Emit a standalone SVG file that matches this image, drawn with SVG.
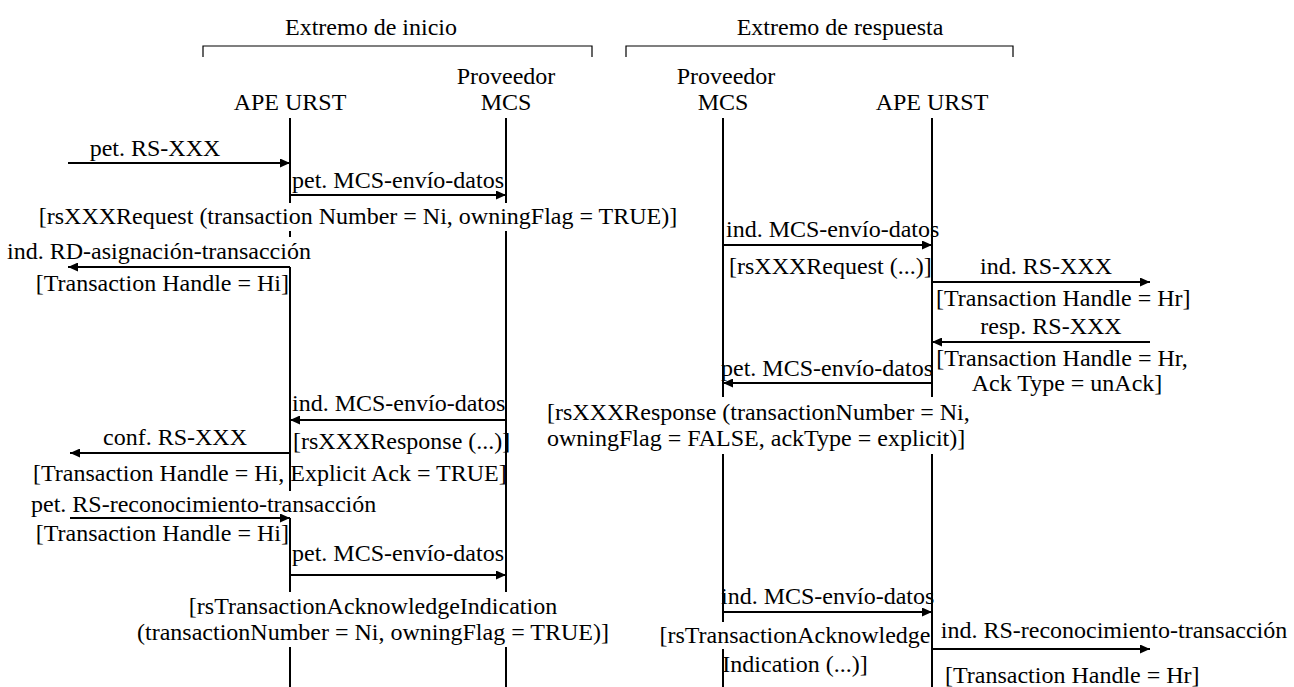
<svg xmlns="http://www.w3.org/2000/svg" width="1294" height="687" viewBox="0 0 1294 687">
  <style>
    text { font-family: "Liberation Serif", "Times New Roman", serif; font-size: 24px; fill: #000; }
    .c { text-anchor: middle; }
    .e { text-anchor: end; }
    .life { stroke: #000; stroke-width: 2; fill: none; }
    .brace { stroke: #000; stroke-width: 1.2; fill: none; }
    .msg { stroke: #000; stroke-width: 2; fill: none; marker-end: url(#head); }
  </style>
  <defs>
    <marker id="head" markerUnits="userSpaceOnUse" markerWidth="11" markerHeight="9" refX="10" refY="4.5" orient="auto">
      <path d="M0,0 L10,4.5 L0,9 z" fill="#000"/>
    </marker>
  </defs>
  <rect width="1294" height="687" fill="#fff"/>

  <!-- sides -->
  <g id="side-initiator">
    <text class="c" x="371" y="35">Extremo de inicio</text>
    <path class="brace" d="M203,57 V46 H592 V57"/>
  </g>
  <g id="side-responder">
    <text class="c" x="840" y="35">Extremo de respuesta</text>
    <path class="brace" d="M626,57 V46 H1013 V57"/>
  </g>

  <!-- participants with their lifelines (broken where labels cross) -->
  <g id="ape-urst-init">
    <text class="c" x="290" y="110">APE URST</text>
    <path class="life" d="M290,118 V203 M290,231 V237 M290,267 V491 M290,518 V592 M290,647 V687"/>
  </g>
  <g id="mcs-init">
    <text class="c" x="506" y="84">Proveedor</text>
    <text class="c" x="506" y="110">MCS</text>
    <path class="life" d="M506,118 V203 M506,231 V592 M506,647 V687"/>
  </g>
  <g id="mcs-resp">
    <text class="c" x="726" y="84">Proveedor</text>
    <text class="c" x="723" y="110">MCS</text>
    <path class="life" d="M723,118 V397 M723,454 V622 M723,649 V687"/>
  </g>
  <g id="ape-urst-resp">
    <text class="c" x="932" y="110">APE URST</text>
    <path class="life" d="M932,118 V397 M932,454 V687"/>
  </g>

  <!-- messages -->
  <g id="connectors">
    <line class="msg" x1="68" y1="163" x2="290" y2="163"/>
    <line class="msg" x1="290" y1="195" x2="506" y2="195"/>
    <line class="msg" x1="290" y1="267" x2="68" y2="267"/>
    <line class="msg" x1="723" y1="245" x2="932" y2="245"/>
    <line class="msg" x1="932" y1="282" x2="1150" y2="282"/>
    <line class="msg" x1="1150" y1="342" x2="932" y2="342"/>
    <line class="msg" x1="932" y1="383" x2="723" y2="383"/>
    <line class="msg" x1="506" y1="420" x2="290" y2="420"/>
    <line class="msg" x1="290" y1="453" x2="70" y2="453"/>
    <line class="msg" x1="70" y1="518" x2="290" y2="518"/>
    <line class="msg" x1="290" y1="575" x2="506" y2="575"/>
    <line class="msg" x1="723" y1="612" x2="932" y2="612"/>
    <line class="msg" x1="932" y1="649" x2="1150" y2="649"/>
  </g>

  <!-- message labels -->
  <g id="labels-init">
    <text class="c" x="155" y="156">pet. RS-XXX</text>
    <text x="292" y="188">pet. MCS-envío-datos</text>
    <text class="c" x="358" y="224">[rsXXXRequest (transaction Number = Ni, owningFlag = TRUE)]</text>
    <text x="7" y="259">ind. RD-asignación-transacción</text>
    <text class="e" x="289" y="291">[Transaction Handle = Hi]</text>
    <text x="292" y="411">ind. MCS-envío-datos</text>
    <text class="c" x="175" y="445">conf. RS-XXX</text>
    <text x="293" y="449">[rsXXXResponse (...)]</text>
    <text x="33" y="481">[Transaction Handle = Hi, Explicit Ack = TRUE]</text>
    <text x="31" y="512">pet. RS-reconocimiento-transacción</text>
    <text class="e" x="289" y="541">[Transaction Handle = Hi]</text>
    <text x="292" y="561">pet. MCS-envío-datos</text>
    <text class="c" x="373" y="614">[rsTransactionAcknowledgeIndication</text>
    <text class="c" x="373" y="640">(transactionNumber = Ni, owningFlag = TRUE)]</text>
  </g>
  <g id="labels-resp">
    <text x="726" y="237">ind. MCS-envío-datos</text>
    <text x="729" y="274">[rsXXXRequest (...)]</text>
    <text class="c" x="1046" y="274">ind. RS-XXX</text>
    <text x="936" y="306">[Transaction Handle = Hr]</text>
    <text class="c" x="1051" y="334">resp. RS-XXX</text>
    <text class="c" x="1062" y="366">[Transaction Handle = Hr,</text>
    <text x="721" y="376">pet. MCS-envío-datos</text>
    <text class="c" x="1067" y="391">Ack Type = unAck]</text>
    <text x="547" y="420">[rsXXXResponse (transactionNumber = Ni,</text>
    <text x="547" y="446">owningFlag = FALSE, ackType = explicit)]</text>
    <text x="721" y="604">ind. MCS-envío-datos</text>
    <text class="c" x="795" y="643">[rsTransactionAcknowledge</text>
    <text class="c" x="1114" y="638">ind. RS-reconocimiento-transacción</text>
    <text class="c" x="795" y="672">Indication (...)]</text>
    <text x="945" y="683">[Transaction Handle = Hr]</text>
  </g>
</svg>
